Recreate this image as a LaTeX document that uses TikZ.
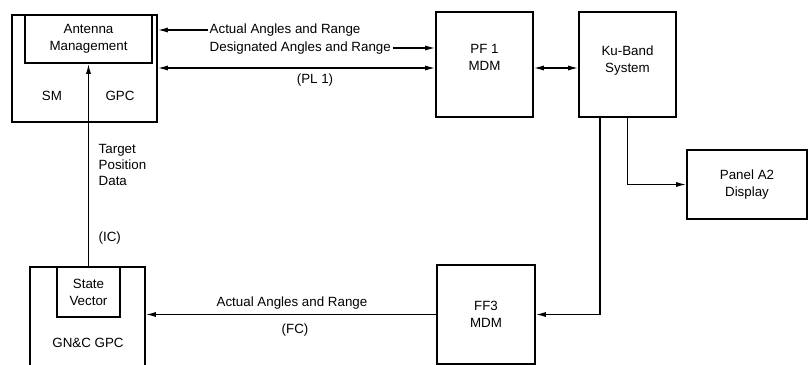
\documentclass[tikz,border=0pt]{standalone}
\usepackage{fontspec}
\setmainfont{Liberation Sans}
\usetikzlibrary{arrows.meta, positioning, calc}

\begin{document}
\begin{tikzpicture}[>={Latex[length=7pt,width=3.6pt]},
    box/.style={draw, line width=1.5pt, align=center, inner sep=0pt,
      font=\fontsize{9.5}{12}\selectfont},
    link/.style={line width=0.8pt},
    lbl/.style={font=\fontsize{9.5}{11.5}\selectfont, align=left, inner sep=1pt}]
    \clip (0,0) rectangle (20.2,9.125);

    % SM GPC mit Antenna Management
    \node[box, minimum width=3.625cm, minimum height=2.675cm] (smgpc) at (2.1125, 7.4125) {};
    \node[box, minimum width=3.175cm, minimum height=1.2cm] (antenna) at (2.2125, 8.15) {Antenna\\Management};
    \node[lbl] (sm) at (1.3, 6.725) {SM};
    \node[lbl] (gpc) at (3.0, 6.725) {GPC};

    % GN&C GPC mit State Vector (unten abgeschnitten)
    \node[box, minimum width=2.875cm, minimum height=2.7cm] (gnc) at (2.1875, 1.1) {};
    \node[box, minimum width=1.575cm, minimum height=1.25cm] (sv) at (2.2125, 1.825) {State\\Vector};
    \node[lbl] (gnclbl) at (2.2, 0.55) {GN\&C GPC};

    % MDMs, Ku-Band, Panel
    \node[box, minimum width=2.425cm, minimum height=2.625cm, text depth=0.35cm] (pf1) at (12.1125, 7.5125) {PF 1\\MDM};
    \node[box, minimum width=2.425cm, minimum height=2.625cm, text depth=0.25cm] (ku) at (15.6875, 7.5125) {Ku-Band\\System};
    \node[box, minimum width=3.0cm, minimum height=1.725cm] (panel) at (18.675, 4.5125) {Panel A2\\Display};
    \node[box, minimum width=2.45cm, minimum height=2.475cm] (ff3) at (12.15, 1.2625) {FF3\\MDM};

    % Beschriftungen oben
    \node[lbl, anchor=west] (actual) at (5.2, 8.375) {Actual Angles and Range};
    \node[lbl, anchor=west] (desig) at (5.2, 7.925) {Designated Angles and Range};
    \node[lbl] (pl1) at (7.875, 7.125) {(PL 1)};
    \coordinate (plline) at (0, 7.425);

    \draw[link, ->] (actual.west) -- (smgpc.east |- actual.west);
    \draw[link, ->] (desig.east) -- (pf1.west |- desig.east);
    \draw[link, <->] (smgpc.east |- plline) -- (pf1.west |- plline);
    \draw[link, <->] (pf1.east |- plline) -- (ku.west |- plline);

    % Target Position Data
    \draw[link, ->] (sv.north) -- (antenna.south);
    \node[lbl, anchor=west] (target) at (2.425, 5.0) {Target\\Position\\Data};
    \node[lbl, anchor=west] (ic) at (2.425, 3.175) {(IC)};

    % Ku-Band nach unten
    \draw[link, ->] (ku.south) |- (panel.west);
    \draw[link, ->] ([xshift=-0.6875cm]ku.south) |- (ff3.east);

    % FF3 zum GN&C GPC
    \draw[link, ->] (ff3.west) -- (gnc.east |- ff3.west);
    \node[lbl] (fcact) at (7.3, 1.55) {Actual Angles and Range};
    \node[lbl] (fc) at (7.375, 0.875) {(FC)};
\end{tikzpicture}
\end{document}
